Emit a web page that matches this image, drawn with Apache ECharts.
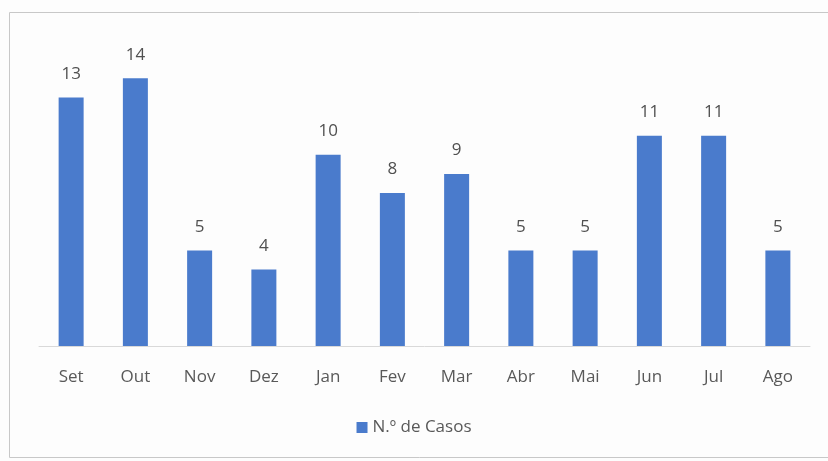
<!DOCTYPE html>
<html>
<head>
    <meta charset="utf-8">
    <title>N.º de Casos</title>
    <style>
        html, body { margin: 0; padding: 0; background: #fdfdfd; }
        #main { width: 828px; height: 461px; }
    </style>
</head>
<body>
    <div id="main"></div>
    <script src="https://cdn.jsdelivr.net/npm/echarts@6/dist/echarts.min.js"></script>
    <script>
    // dados
    var meses = ['Set', 'Out', 'Nov', 'Dez', 'Jan', 'Fev', 'Mar', 'Abr', 'Mai', 'Jun', 'Jul', 'Ago'];
    var casos = [13, 14, 5, 4, 10, 8, 9, 5, 5, 11, 11, 5];
    var nomeSerie = 'N.º de Casos';

    var myChart = echarts.init(document.getElementById('main'));
    var fonte = "Open Sans, Calibri, sans-serif";

    var option = {
        backgroundColor: '#fdfdfd',
        animation: false,
        // moldura do gráfico
        graphic: [{
            type: 'rect',
            shape: { x: 9.5, y: 12.5, width: 830, height: 445 },
            style: { fill: 'none', stroke: '#c8c8c8', lineWidth: 1 }
        }],
        legend: {
            data: [nomeSerie],
            bottom: 20,
            left: 'center',
            icon: 'rect',
            itemWidth: 11,
            itemHeight: 11,
            itemGap: 6,
            textStyle: { color: '#595959', fontSize: 17, fontFamily: fonte }
        },
        grid: { left: 39, right: 18, top: 40, bottom: 115 },
        xAxis: {
            type: 'category',
            data: meses,
            axisLine: { lineStyle: { color: '#d9d9d9' } },
            axisTick: { show: false },
            axisLabel: { color: '#595959', fontSize: 17, fontFamily: fonte, margin: 23 }
        },
        yAxis: {
            type: 'value',
            min: 0,
            max: 16,
            show: false,
            splitLine: { show: false }
        },
        series: [{
            name: nomeSerie,
            type: 'bar',
            data: casos,
            barWidth: 25,
            itemStyle: { color: '#4a7bcc' },
            label: {
                show: true,
                position: 'top',
                distance: 15,
                color: '#505050',
                fontSize: 17,
                fontFamily: fonte
            }
        }]
    };

    myChart.setOption(option);
    </script>
</body>
</html>
